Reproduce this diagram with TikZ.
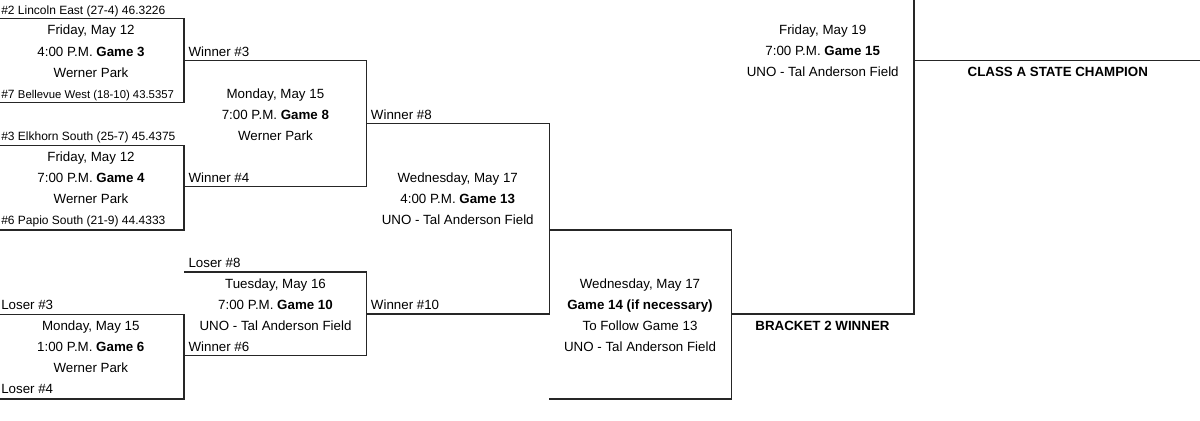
\documentclass[tikz,border=0pt]{standalone}
\usepackage{fontspec}
\setmainfont{Liberation Sans}
\begin{document}
\begin{tikzpicture}[x=0.75pt,y=-0.75pt,
  ln/.style={line width=0.85pt, draw=black!85},
  ctr/.style={anchor=base, inner sep=0pt, font=\fontsize{10}{12}\selectfont},
  lft/.style={anchor=base west, inner sep=0pt, font=\fontsize{10}{12}\selectfont},
  team/.style={anchor=base west, inner sep=0pt, font=\fontsize{9}{11}\selectfont}]
\useasboundingbox (0,0) rectangle (1200,421);
% bracket lines
\draw[ln] (0,18.3) -| (184,102.7) -- (0,102.7);
\draw[ln] (184,60.7) -| (366.7,186.7) -- (184,186.7);
\draw[ln] (0,145.3) -| (184,230) -- (0,230);
\draw[ln] (366.7,123.7) -| (549.3,314) -- (366.7,314);
\draw[ln] (184,272) -| (366.7,355.7) -- (184,355.7);
\draw[ln] (0,314.3) -| (184,399) -- (0,399);
\draw[ln] (549.3,230) -| (731.3,399) -- (549.3,399);
\draw[ln] (731.3,314) -| (914,0);
\draw[ln] (914,60.7) -- (1200,60.7);
% Game 3
\node[team] (t2) at (1,14) {\#2 Lincoln East (27-4) 46.3226};
\node[ctr] (g3a) at (91,35) {Friday, May 12};
\node[ctr] (g3b) at (91,56) {4:00 P.M. \textbf{Game 3}};
\node[ctr] (g3c) at (91,77) {Werner Park};
\node[team] (t7) at (1,98) {\#7 \fontsize{8.5}{11}\selectfont Bellevue West (18-10) 43.5357};
\node[lft] (w3) at (188.3,56) {Winner \#3};
% Game 8
\node[ctr] (g8a) at (275.4,98) {Monday, May 15};
\node[ctr] (g8b) at (275.4,119) {7:00 P.M. \textbf{Game 8}};
\node[ctr] (g8c) at (275.4,140.2) {Werner Park};
\node[lft] (w8) at (370.7,119) {Winner \#8};
% Game 4
\node[team] (t3) at (1,140.3) {\#3 Elkhorn South (25-7) 45.4375};
\node[ctr] (g4a) at (91,161.3) {Friday, May 12};
\node[ctr] (g4b) at (91,182.3) {7:00 P.M. \textbf{Game 4}};
\node[ctr] (g4c) at (91,203.5) {Werner Park};
\node[team] (t6) at (1,224.8) {\#6 Papio South (21-9) 44.4333};
\node[lft] (w4) at (188.3,182.3) {Winner \#4};
% Game 13
\node[ctr] (g13a) at (457.7,182.3) {Wednesday, May 17};
\node[ctr] (g13b) at (457.7,203.5) {4:00 P.M. \textbf{Game 13}};
\node[ctr] (g13c) at (457.7,224.5) {UNO - Tal Anderson Field};
% Game 10
\node[lft] (l8) at (188.3,267) {Loser \#8};
\node[ctr] (g10a) at (275.5,288) {Tuesday, May 16};
\node[ctr] (g10b) at (275.5,309.2) {7:00 P.M. \textbf{Game 10}};
\node[ctr] (g10c) at (275.5,330.3) {UNO - Tal Anderson Field};
\node[lft] (w6) at (188.3,351.3) {Winner \#6};
\node[lft] (w10) at (370.7,309) {Winner \#10};
% Game 6
\node[lft] (l3) at (1,309.5) {Loser \#3};
\node[ctr] (g6a) at (90.8,330.6) {Monday, May 15};
\node[ctr] (g6b) at (90.8,351.6) {1:00 P.M. \textbf{Game 6}};
\node[ctr] (g6c) at (90.8,372.7) {Werner Park};
\node[lft] (l4) at (1,393.9) {Loser \#4};
% Game 14
\node[ctr] (g14a) at (640,288) {Wednesday, May 17};
\node[ctr] (g14b) at (640,309.2) {\textbf{Game 14 (if necessary)}};
\node[ctr] (g14c) at (640,330.3) {To Follow Game 13};
\node[ctr] (g14d) at (640,351.2) {UNO - Tal Anderson Field};
\node[ctr] (b2w) at (822.5,330) {\textbf{BRACKET 2 WINNER}};
% Game 15
\node[ctr] (g15a) at (822.7,34.2) {Friday, May 19};
\node[ctr] (g15b) at (822.7,55.6) {7:00 P.M. \textbf{Game 15}};
\node[ctr] (g15c) at (822.7,76.7) {UNO - Tal Anderson Field};
\node[ctr] (champ) at (1057.8,76.5) {\textbf{CLASS A STATE CHAMPION}};
\end{tikzpicture}
\end{document}
